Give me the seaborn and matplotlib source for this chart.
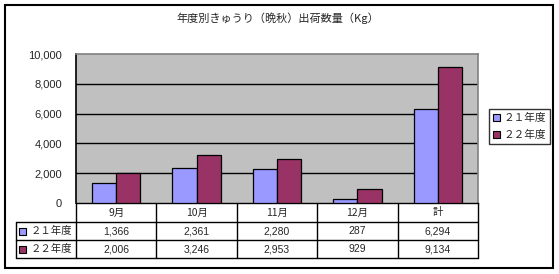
import matplotlib
matplotlib.use("Agg")
import matplotlib.pyplot as plt
import seaborn as sns
import pandas as pd
from matplotlib.patches import Patch, Rectangle
from matplotlib.lines import Line2D

# ---- data ----
categories = ["9月", "10月", "11月", "12月", "計"]
series_names = ["２１年度", "２２年度"]
values_21 = [1366, 2361, 2280, 287, 6294]
values_22 = [2006, 3246, 2953, 929, 9134]
y_ticks = [0, 2000, 4000, 6000, 8000, 10000]
title = "年度別きゅうり（晩秋）出荷数量（Kg）"

colors = ["#9999FF", "#993366"]

sns.set_theme(style="white")
plt.rcParams["font.family"] = ["Liberation Sans", "Noto Sans CJK JP", "DejaVu Sans"]
CJK = ["Noto Sans CJK JP", "DejaVu Sans"]

W, H = 559, 274
fig = plt.figure(figsize=(W / 100, H / 100), dpi=100)
fig.patch.set_facecolor("white")

# pixel geometry
ax_l, ax_r, ax_t, ax_b = 76, 478, 54, 203
ax = fig.add_axes([ax_l / W, 1 - ax_b / H, (ax_r - ax_l) / W, (ax_b - ax_t) / H])

df = pd.DataFrame({
    "cat": categories * 2,
    "series": [series_names[0]] * len(categories) + [series_names[1]] * len(categories),
    "value": values_21 + values_22,
})
sns.barplot(data=df, x="cat", y="value", hue="series", order=categories,
            hue_order=series_names, palette=colors, width=0.6, saturation=1,
            edgecolor="black", linewidth=0.9, legend=False, ax=ax, zorder=3)

ax.set_facecolor("#C0C0C0")
ax.set_xlim(-0.5, len(categories) - 0.5)
ax.set_ylim(y_ticks[0], y_ticks[-1])
ax.set_yticks(y_ticks)
ax.set_yticklabels([f"{v:,}" for v in y_ticks], fontsize=8)
ax.tick_params(axis="y", length=0, pad=10)
ax.set_xticks([])
ax.set_xlabel("")
ax.set_ylabel("")
ax.grid(False)
for yv in y_ticks[1:-1]:
    ax.axhline(yv, color="black", lw=1, zorder=1)
ax.spines["left"].set_color("black")
ax.spines["left"].set_linewidth(1.2)
ax.spines["bottom"].set_color("black")
ax.spines["bottom"].set_linewidth(1)
for s in ["top", "right"]:
    ax.spines[s].set_color("#808080")
    ax.spines[s].set_linewidth(1.2)

# background overlay (frame + title)
ov = fig.add_axes([0, 0, 1, 1], zorder=-1)
ov.set_xlim(0, W)
ov.set_ylim(H, 0)
ov.axis("off")
ov.add_patch(Rectangle((5, 5), 547.5, 263, fill=False, edgecolor="black", lw=1.5))
ov.text(278, 18, title, ha="center", va="center", fontsize=8, family=CJK)

# data table overlay
ov2 = fig.add_axes([0, 0, 1, 1], zorder=5)
ov2.set_xlim(0, W)
ov2.set_ylim(H, 0)
ov2.axis("off")
ov2.patch.set_alpha(0)

row_y = [203, 222, 240, 258]
col_w = (ax_r - ax_l) / len(categories)
col_x = [ax_l + i * col_w for i in range(len(categories) + 1)]
lc = "black"
for yy in row_y[1:]:
    ov2.add_line(Line2D([16, ax_r], [yy, yy], color=lc, lw=1))
ov2.add_line(Line2D([16, 16], [row_y[1], row_y[3]], color=lc, lw=1))
for x in col_x:
    ov2.add_line(Line2D([x, x], [row_y[0], row_y[3]], color=lc, lw=1))

for i, c in enumerate(categories):
    cx = (col_x[i] + col_x[i + 1]) / 2
    ov2.text(cx, (row_y[0] + row_y[1]) / 2, c, ha="center", va="center", fontsize=7.5, family=CJK)
    ov2.text(cx, (row_y[1] + row_y[2]) / 2 + 0.5, f"{values_21[i]:,}", ha="center", va="center", fontsize=7.5)
    ov2.text(cx, (row_y[2] + row_y[3]) / 2 + 0.5, f"{values_22[i]:,}", ha="center", va="center", fontsize=7.5)

for j, (name, col) in enumerate(zip(series_names, colors)):
    yc = (row_y[1 + j] + row_y[2 + j]) / 2
    ov2.add_patch(Rectangle((19, yc - 3.5), 7, 7, facecolor=col, edgecolor="black", lw=0.8))
    ov2.text(31, yc, name, ha="left", va="center", fontsize=7.5, family=CJK)

# legend
handles = [Patch(facecolor=c, edgecolor="black", lw=0.8) for c in colors]
leg = fig.legend(handles, series_names, loc="upper left",
                 bbox_to_anchor=(489 / W, 1 - 109 / H), frameon=True, fancybox=False,
                 edgecolor="black", handlelength=0.65, handleheight=0.65, handletextpad=0.4,
                 borderpad=0.35, labelspacing=0.7, borderaxespad=0,
                 prop={"family": CJK, "size": 7.7})
leg.get_frame().set_linewidth(1)

fig.savefig("out.png", dpi=100, facecolor="white")
